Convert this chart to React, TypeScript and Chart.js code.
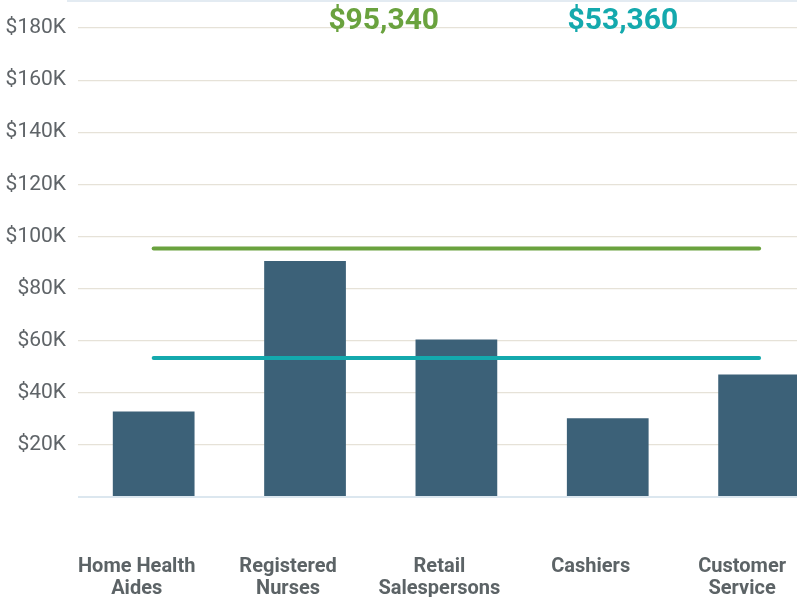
import React, { useEffect, useRef } from "react";
import { Chart, registerables } from "chart.js";

Chart.register(...registerables);

const categories: string[][] = [
  ["Home Health", "Aides"],
  ["Registered", "Nurses"],
  ["Retail", "Salespersons"],
  ["Cashiers"],
  ["Customer", "Service"],
];
const salaries = [32800, 90600, 60400, 30200, 47000];
const greenValue = 95340;
const tealValue = 53360;
const greenLine = [greenValue, greenValue, greenValue, greenValue, greenValue];
const tealLine = [tealValue, tealValue, tealValue, tealValue, tealValue];
const yTicks = [0, 20000, 40000, 60000, 80000, 100000, 120000, 140000, 160000, 180000];

const GREEN = "#6aa23e";
const TEAL = "#14a9ad";
const BAR = "#3c6178";

const fmtMoney = (v: number) => "$" + v.toLocaleString("en-US");

const topLabels = {
  id: "topLabels",
  afterDraw(chart: any) {
    const ctx = chart.ctx;
    const x = chart.scales.x;
    ctx.save();
    ctx.fillStyle = "#e3ebf2";
    ctx.fillRect(67, 0, chart.width, 2);
    ctx.font = "bold 30px Roboto";
    ctx.textAlign = "center";
    ctx.textBaseline = "middle";
    ctx.fillStyle = GREEN;
    ctx.fillText(fmtMoney(greenValue), x.getPixelForValue(1.52), 21);
    ctx.fillStyle = TEAL;
    ctx.fillText(fmtMoney(tealValue), x.getPixelForValue(3.1), 21);
    ctx.restore();
  },
};

export default function App() {
  const ref = useRef<HTMLCanvasElement>(null);
  useEffect(() => {
    if (!ref.current) return;
    const chart = new Chart(ref.current, {
      type: "bar",
      data: {
        labels: categories,
        datasets: [
          {
            type: "line",
            data: greenLine,
            borderColor: GREEN,
            borderWidth: 4,
            borderCapStyle: "round",
            pointRadius: 0,
            order: 0,
          } as any,
          {
            type: "line",
            data: tealLine,
            borderColor: TEAL,
            borderWidth: 4,
            borderCapStyle: "round",
            pointRadius: 0,
            order: 0,
          } as any,
          {
            type: "bar",
            data: salaries,
            backgroundColor: BAR,
            barPercentage: 0.54,
            categoryPercentage: 1,
            order: 1,
          },
        ],
      },
      options: {
        animation: false,
        responsive: false,
        maintainAspectRatio: false,
        layout: { padding: { top: 28, left: 0, right: 0, bottom: 0 } },
        plugins: { legend: { display: false }, tooltip: { enabled: false } },
        scales: {
          x: {
            grid: { display: false, drawTicks: false },
            border: { display: false },
            ticks: {
              color: "#5c6366",
              font: { family: "Roboto", size: 20, weight: "bold", lineHeight: 1.1 },
              padding: 59,
              labelOffset: -17,
              maxRotation: 0,
              autoSkip: false,
            },
            afterFit: (s: any) => {
              s.height = 100;
            },
          },
          y: {
            min: 0,
            max: 180000,
            afterBuildTicks: (s: any) => {
              s.ticks = yTicks.map((v) => ({ value: v }));
            },
            grid: {
              color: (c: any) => (c.tick && c.tick.value === 0 ? "#dce7ef" : "#e6e2d8"),
              lineWidth: (c: any) => (c.tick && c.tick.value === 0 ? 2 : 1.2),
              drawTicks: false,
            },
            border: { display: false },
            ticks: {
              color: "#5f6468",
              font: { family: "Roboto", size: 21 },
              padding: 12,
              callback: (v: any) => (v === 0 ? "" : "$" + v / 1000 + "K"),
            },
            afterFit: (s: any) => {
              s.width = 78;
            },
          },
        },
      },
      plugins: [topLabels],
    });
    return () => chart.destroy();
  }, []);
  return (
    <div style={{ position: "fixed", left: 0, top: 0, width: 797, height: 597, overflow: "hidden", background: "#fff" }}>
      <canvas ref={ref} width={862} height={597} style={{ display: "block", width: 862, height: 597 }} />
    </div>
  );
}
